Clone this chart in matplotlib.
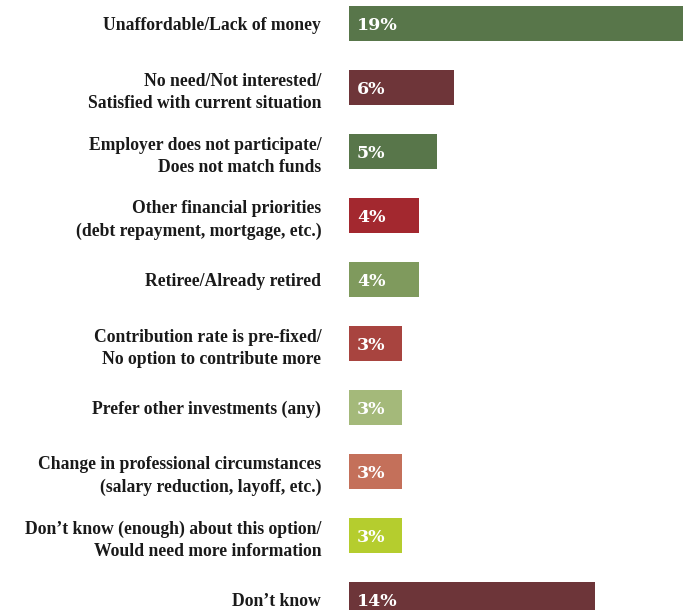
import matplotlib
matplotlib.use('Agg')
import matplotlib.pyplot as plt

reasons = ['Unaffordable/Lack of money',
           'No need/Not interested/\nSatisfied with current situation',
           'Employer does not participate/\nDoes not match funds',
           'Other financial priorities\n(debt repayment, mortgage, etc.)',
           'Retiree/Already retired',
           'Contribution rate is pre-fixed/\nNo option to contribute more',
           'Prefer other investments (any)',
           'Change in professional circumstances\n(salary reduction, layoff, etc.)',
           'Don\u2019t know (enough) about this option/\nWould need more information',
           'Don\u2019t know']
shares = [19, 6, 5, 4, 4, 3, 3, 3, 3, 14]
colors = ['#58764a', '#6e3539', '#58764a', '#a3282f', '#7f9a5d',
          '#a8443f', '#a4b97a', '#c4705a', '#b5cd2e', '#6d3539']

W, H = 688, 610
fig = plt.figure(figsize=(W / 100, H / 100), dpi=100)
fig.patch.set_facecolor('white')

# bars start at x=349 px, rows are 64 px apart, first centre 23.5 px down
ax = fig.add_axes([349 / W, 0, 1 - 349 / W, 1])
ypos = list(range(len(reasons)))
ax.barh(ypos, shares, height=0.56, color=colors, zorder=2)

ax.set_xlim(0, 19.28)
ax.set_ylim((H - 23.5) / 64, -23.5 / 64)

for y, v in zip(ypos, shares):
    ax.text(0.45, y + 0.03, f'{v}%', color='white', va='center', ha='left',
            family='DejaVu Serif', fontweight='bold', fontsize=12.5)

ax.set_yticks(ypos)
ax.set_yticklabels(reasons, family='Liberation Serif', fontweight='bold',
                   fontsize=12.7, color='#1a1a1a', linespacing=1.42)
ax.tick_params(axis='y', length=0, pad=20)
ax.set_xticks([])
for s in ax.spines.values():
    s.set_visible(False)

fig.savefig('out.png', dpi=100, facecolor='white')
